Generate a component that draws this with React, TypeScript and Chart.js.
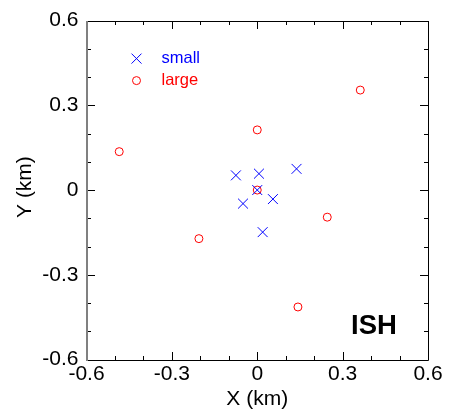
import React, { useEffect, useRef } from "react";
import { Chart, registerables } from "chart.js";

Chart.register(...registerables);

const smallX = [-0.075, 0.006, 0.138, 0.0, -0.05, 0.055, 0.019];
const smallY = [0.052, 0.058, 0.075, 0.0, -0.048, -0.032, -0.149];
const largeX = [0.362, 0.0, -0.485, 0.0, 0.246, -0.205, 0.143];
const largeY = [0.354, 0.213, 0.136, 0.0, -0.096, -0.172, -0.414];
const majorTicks = [-0.6, -0.3, 0, 0.3, 0.6];
const minorTicks = [-0.5, -0.4, -0.2, -0.1, 0.1, 0.2, 0.4, 0.5];
const seriesNames = ["small", "large"];
const xTitle = "X (km)";
const yTitle = "Y (km)";
const stationLabel = "ISH";

const FONT = "'Liberation Sans', Arial, sans-serif";

const fmt = (v: number) => String(Number(v.toFixed(1)));

const framePlugin = {
  id: "frame",
  afterDraw(chart: any) {
    const { ctx, chartArea: a, scales } = chart;
    const xs = scales.x;
    const ys = scales.y;
    const L = Math.round(a.left), R = Math.round(a.right), T = Math.round(a.top), B = Math.round(a.bottom);
    ctx.save();
    ctx.strokeStyle = "#000";
    ctx.lineWidth = 1;
    const ticks = (vals: number[], len: number) => {
      ctx.beginPath();
      vals.forEach((v) => {
        const px = Math.round(xs.getPixelForValue(v)) + 0.5;
        ctx.moveTo(px, B); ctx.lineTo(px, B - len);
        ctx.moveTo(px, T); ctx.lineTo(px, T + len);
        const py = Math.round(ys.getPixelForValue(v)) + 0.5;
        ctx.moveTo(L, py); ctx.lineTo(L + len, py);
        ctx.moveTo(R, py); ctx.lineTo(R - len, py);
      });
      ctx.stroke();
    };
    ticks(majorTicks, 8);
    ticks(minorTicks, 4);
    // frame
    ctx.beginPath();
    ctx.moveTo(L, T + 0.5); ctx.lineTo(R + 0.5, T + 0.5);
    ctx.lineTo(R + 0.5, B + 0.5); ctx.lineTo(L, B + 0.5);
    ctx.stroke();
    ctx.strokeStyle = "#808080";
    ctx.lineWidth = 2;
    ctx.beginPath();
    ctx.moveTo(L, T); ctx.lineTo(L, B + 1);
    ctx.stroke();

    // axis titles
    ctx.fillStyle = "#000";
    ctx.font = `21px ${FONT}`;
    ctx.textAlign = "center";
    ctx.textBaseline = "middle";
    ctx.fillText(xTitle, (a.left + a.right) / 2, 399);
    ctx.save();
    ctx.translate(25, (a.top + a.bottom) / 2 - 3);
    ctx.rotate(-Math.PI / 2);
    ctx.fillText(yTitle, 0, 0);
    ctx.restore();

    // legend
    const lx = a.left + 50;
    const ly1 = a.top + 38;
    const ly2 = a.top + 60;
    ctx.lineWidth = 1;
    ctx.strokeStyle = "#0000ff";
    ctx.beginPath();
    ctx.moveTo(lx - 5, ly1 - 5); ctx.lineTo(lx + 5, ly1 + 5);
    ctx.moveTo(lx + 5, ly1 - 5); ctx.lineTo(lx - 5, ly1 + 5);
    ctx.stroke();
    ctx.strokeStyle = "#ff0000";
    ctx.beginPath();
    ctx.arc(lx, ly2, 4, 0, Math.PI * 2);
    ctx.stroke();
    ctx.font = `16.5px ${FONT}`;
    ctx.textAlign = "left";
    ctx.fillStyle = "#0000ff";
    ctx.fillText(seriesNames[0], lx + 25, ly1);
    ctx.fillStyle = "#ff0000";
    ctx.fillText(seriesNames[1], lx + 25, ly2);

    // station label
    ctx.fillStyle = "#000";
    ctx.font = `bold 27.5px ${FONT}`;
    ctx.textAlign = "center";
    ctx.fillText(stationLabel, 374, 326);
    ctx.restore();
  },
};

export default function App() {
  const ref = useRef<HTMLCanvasElement>(null);
  useEffect(() => {
    document.body.style.margin = "0";
    const chart = new Chart(ref.current!, {
      type: "scatter",
      data: {
        datasets: [
          {
            label: seriesNames[0],
            data: smallX.map((x, i) => ({ x, y: smallY[i] })),
            pointStyle: "crossRot",
            pointRadius: 7,
            borderColor: "#0000ff",
            backgroundColor: "#0000ff",
            borderWidth: 1,
          },
          {
            label: seriesNames[1],
            data: largeX.map((x, i) => ({ x, y: largeY[i] })),
            pointStyle: "circle",
            pointRadius: 4,
            borderColor: "#ff0000",
            backgroundColor: "rgba(0,0,0,0)",
            borderWidth: 1,
          },
        ],
      },
      options: {
        animation: false,
        responsive: false,
        layout: { padding: { top: 19, right: 23, left: 0, bottom: 0 } },
        plugins: { legend: { display: false }, tooltip: { enabled: false } },
        scales: {
          x: {
            type: "linear",
            min: -0.6,
            max: 0.6,
            grid: { display: false, drawTicks: false },
            border: { display: false },
            afterBuildTicks: (s: any) => { s.ticks = majorTicks.map((v) => ({ value: v })); },
            afterFit: (s: any) => { s.height = 52.5; },
            ticks: {
              autoSkip: false,
              maxRotation: 0,
              padding: 2,
              color: "#000",
              font: { family: FONT, size: 21 },
              callback: (v: any) => fmt(Number(v)),
            },
          },
          y: {
            type: "linear",
            min: -0.6,
            max: 0.6,
            grid: { display: false, drawTicks: false },
            border: { display: false },
            afterBuildTicks: (s: any) => { s.ticks = majorTicks.map((v) => ({ value: v })); },
            afterFit: (s: any) => { s.width = 86.5; },
            ticks: {
              autoSkip: false,
              padding: 8,
              color: "#000",
              font: { family: FONT, size: 21 },
              callback: (v: any) => fmt(Number(v)),
            },
          },
        },
      },
      plugins: [framePlugin],
    });
    return () => chart.destroy();
  }, []);
  return (
    <div style={{ width: 451, height: 412 }}>
      <canvas ref={ref} width={451} height={412} />
    </div>
  );
}
